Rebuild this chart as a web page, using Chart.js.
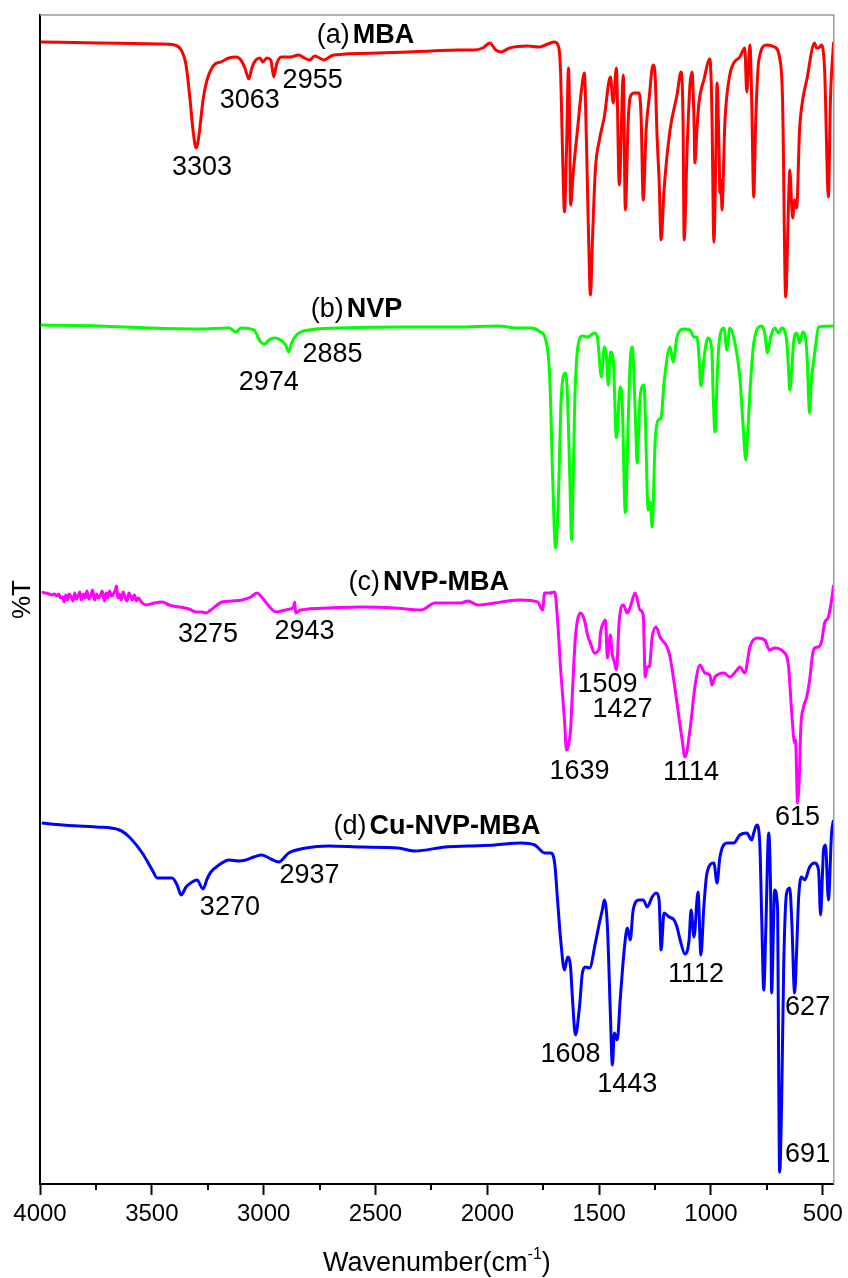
<!DOCTYPE html>
<html>
<head>
<meta charset="utf-8">
<script src="https://cdn.jsdelivr.net/npm/chart.js@4.4.0/dist/chart.umd.min.js"></script>
<style>
  html, body { margin: 0; padding: 0; background: #fff; }
  canvas { display: block; }
</style>
</head>
<body>
<canvas id="ftir" width="848" height="1278"></canvas>
<script>
// wavenumber (cm-1) and stacked %T (arbitrary offset units) for each spectrum
const mbaWn = [3997, 3734, 3467, 3399, 3369, 3347, 3329, 3316, 3302, 3289, 3271, 3253, 3222, 3191, 3155, 3124, 3102, 3084, 3066, 3053, 3035, 3017, 3004, 2986, 2968, 2955, 2942, 2920, 2879, 2844, 2817, 2794, 2772, 2750, 2732, 2688, 2488, 2252, 2131, 2064, 2020, 1989, 1962, 1940, 1900, 1819, 1770, 1730, 1699, 1681, 1672, 1664, 1655, 1646, 1637, 1632, 1628, 1615, 1597, 1579, 1566, 1557, 1548, 1539, 1530, 1517, 1499, 1477, 1450, 1437, 1423, 1410, 1392, 1383, 1370, 1361, 1343, 1321, 1312, 1303, 1290, 1276, 1259, 1250, 1241, 1232, 1223, 1210, 1183, 1152, 1134, 1125, 1120, 1107, 1094, 1085, 1076, 1072, 1063, 1054, 1032, 1005, 996, 987, 978, 973, 964, 960, 955, 951, 938, 916, 898, 871, 849, 840, 826, 818, 809, 800, 786, 751, 716, 693, 680, 666, 653, 648, 635, 626, 617, 604, 590, 572, 537, 528, 519, 506, 492, 475, 466, 452];
const mbaT = [1142, 1141, 1140, 1139, 1134, 1119, 1084, 1054, 1036, 1049, 1084, 1104, 1119, 1122, 1126, 1127, 1124, 1116, 1105, 1116, 1124, 1126, 1122, 1126, 1124, 1107, 1120, 1127, 1127, 1129, 1126, 1124, 1128, 1126, 1124, 1129, 1131, 1133, 1134, 1134, 1136, 1141, 1134, 1132, 1136, 1138, 1137, 1140, 1142, 1137, 1109, 1034, 972, 1034, 1116, 1064, 979, 1014, 1054, 1094, 1111, 1044, 954, 889, 944, 1014, 1044, 1067, 1107, 1081, 1116, 999, 1109, 974, 1064, 1087, 1091, 1091, 1064, 984, 1054, 1087, 1119, 1109, 1047, 1004, 944, 994, 1054, 1089, 1112, 1064, 944, 1034, 1099, 1112, 1064, 1021, 1054, 1081, 1104, 1125, 1074, 942, 1034, 1101, 1034, 991, 1004, 974, 1061, 1109, 1121, 1127, 1136, 1092, 1139, 1084, 987, 1064, 1124, 1139, 1137, 1126, 1084, 887, 984, 1014, 966, 984, 976, 1054, 1084, 1104, 1141, 1136, 1136, 1139, 1114, 987, 1084, 1142];

const nvpWn = [3997, 3734, 3511, 3289, 3155, 3124, 3102, 3044, 3013, 2995, 2977, 2951, 2924, 2902, 2888, 2875, 2853, 2799, 2666, 2399, 2131, 1953, 1864, 1806, 1762, 1739, 1721, 1708, 1695, 1681, 1672, 1659, 1650, 1641, 1632, 1623, 1615, 1610, 1597, 1575, 1552, 1521, 1508, 1490, 1477, 1468, 1459, 1450, 1437, 1423, 1410, 1406, 1397, 1383, 1370, 1361, 1352, 1339, 1330, 1317, 1299, 1294, 1281, 1272, 1263, 1250, 1236, 1223, 1210, 1183, 1169, 1152, 1120, 1094, 1076, 1063, 1054, 1045, 1032, 1023, 1014, 996, 991, 982, 973, 964, 942, 929, 916, 893, 871, 858, 844, 835, 826, 809, 773, 760, 747, 733, 716, 698, 684, 662, 653, 648, 639, 631, 617, 604, 590, 572, 559, 550, 546, 532, 519, 452];
const nvpT = [859, 858, 856, 855, 856, 852, 856, 854, 842, 840, 844, 846, 844, 839, 832, 841, 849, 854, 856, 857, 857, 858, 856, 856, 852, 844, 807, 707, 636, 694, 774, 809, 811, 784, 714, 644, 714, 774, 834, 848, 847, 851, 847, 807, 837, 829, 799, 832, 824, 746, 789, 797, 781, 671, 764, 824, 837, 774, 721, 787, 799, 771, 674, 682, 657, 741, 764, 766, 801, 837, 822, 847, 855, 854, 847, 847, 829, 798, 824, 839, 846, 834, 794, 752, 804, 841, 856, 834, 856, 841, 807, 764, 724, 754, 791, 841, 858, 851, 831, 847, 856, 851, 856, 844, 814, 794, 814, 841, 851, 841, 852, 834, 771, 809, 814, 839, 857, 858];

const nvpMbaWn = [3992, 3975, 3960, 3948, 3935, 3925, 3916, 3908, 3899, 3892, 3885, 3877, 3870, 3861, 3852, 3845, 3838, 3830, 3822, 3815, 3805, 3797, 3790, 3781, 3772, 3765, 3756, 3747, 3739, 3731, 3722, 3712, 3704, 3697, 3689, 3680, 3672, 3663, 3658, 3652, 3645, 3637, 3628, 3620, 3611, 3603, 3595, 3587, 3578, 3569, 3560, 3547, 3525, 3489, 3454, 3423, 3378, 3334, 3302, 3276, 3258, 3236, 3186, 3142, 3097, 3057, 3031, 3013, 2977, 2946, 2902, 2866, 2861, 2857, 2835, 2710, 2563, 2412, 2296, 2234, 2118, 2087, 2042, 1967, 1909, 1850, 1775, 1753, 1744, 1721, 1699, 1686, 1672, 1655, 1646, 1637, 1628, 1619, 1606, 1583, 1566, 1552, 1539, 1521, 1499, 1495, 1481, 1472, 1463, 1450, 1441, 1432, 1423, 1410, 1392, 1374, 1361, 1339, 1317, 1303, 1294, 1285, 1276, 1263, 1245, 1228, 1196, 1183, 1152, 1129, 1116, 1094, 1072, 1049, 1027, 1005, 996, 982, 942, 916, 884, 871, 849, 826, 795, 760, 738, 716, 675, 653, 639, 626, 622, 613, 604, 599, 586, 572, 559, 546, 537, 519, 506, 492, 475, 461, 452];
const nvpMbaT = [592, 591, 590, 589, 590, 588, 590, 586, 587, 582, 589, 584, 590, 587, 583, 591, 585, 588, 592, 584, 590, 586, 593, 585, 589, 594, 584, 590, 586, 588, 593, 583, 591, 586, 593, 588, 590, 594, 598, 586, 590, 584, 592, 587, 583, 591, 588, 584, 589, 583, 586, 582, 579, 581, 582, 579, 577, 575, 572, 572, 571, 574, 582, 583, 584, 587, 591, 588, 578, 572, 574, 577, 582, 571, 574, 576, 577, 576, 574, 581, 581, 583, 579, 581, 583, 584, 582, 574, 591, 591, 592, 564, 514, 464, 434, 439, 454, 494, 547, 571, 564, 549, 541, 531, 536, 549, 561, 564, 526, 549, 529, 522, 514, 564, 579, 571, 577, 591, 574, 569, 507, 517, 517, 547, 557, 547, 537, 527, 481, 444, 427, 454, 497, 519, 511, 509, 499, 507, 511, 507, 514, 517, 511, 537, 546, 544, 534, 536, 532, 517, 471, 441, 444, 381, 414, 454, 477, 487, 504, 529, 536, 537, 542, 561, 567, 584, 599];

const cuNvpMbaWn = [3992, 3899, 3748, 3645, 3601, 3543, 3498, 3476, 3409, 3387, 3369, 3347, 3320, 3298, 3271, 3253, 3236, 3200, 3155, 3111, 3080, 3044, 3008, 2968, 2933, 2888, 2812, 2710, 2563, 2399, 2323, 2189, 2087, 1967, 1850, 1788, 1744, 1717, 1699, 1686, 1672, 1655, 1641, 1628, 1619, 1606, 1588, 1575, 1561, 1543, 1517, 1499, 1486, 1477, 1463, 1450, 1441, 1432, 1419, 1406, 1388, 1374, 1361, 1348, 1321, 1303, 1285, 1263, 1245, 1232, 1223, 1210, 1187, 1165, 1152, 1138, 1116, 1098, 1089, 1076, 1058, 1045, 1032, 1018, 987, 973, 960, 929, 898, 871, 840, 818, 809, 795, 782, 773, 764, 755, 742, 733, 729, 720, 716, 702, 698, 693, 684, 675, 662, 648, 639, 626, 617, 608, 595, 581, 559, 537, 519, 510, 501, 497, 488, 475, 461, 452];
const cuNvpMbaT = [361, 359, 357, 354, 347, 331, 314, 306, 306, 299, 289, 297, 302, 304, 295, 305, 312, 319, 324, 323, 324, 327, 329, 325, 322, 331, 336, 338, 337, 336, 333, 337, 338, 339, 341, 339, 331, 331, 321, 284, 244, 214, 227, 217, 184, 149, 177, 211, 217, 216, 241, 261, 274, 284, 257, 171, 119, 151, 144, 184, 234, 256, 244, 274, 284, 284, 277, 287, 291, 284, 234, 271, 267, 264, 257, 244, 230, 244, 274, 247, 292, 229, 277, 311, 321, 301, 327, 341, 341, 349, 351, 344, 351, 359, 341, 264, 194, 254, 351, 284, 191, 264, 294, 274, 134, 12, 84, 217, 291, 296, 264, 191, 234, 287, 307, 304, 317, 321, 314, 269, 314, 334, 339, 284, 351, 364];

const xTickValues = [4000, 3500, 3000, 2500, 2000, 1500, 1000, 500];
const xMinorValues = [3750, 3250, 2750, 2250, 1750, 1250, 750];

// band assignments written next to the spectra
const peakLabels = ['3303', '3063', '2955', '2974', '2885', '3275', '2943', '1509', '1427', '1639', '1114', '615', '3270', '2937', '1112', '1608', '1443', '627', '691'];
const peakLabelWn = [3276, 3062, 2781, 2977, 2692, 3249, 2817, 1463, 1396, 1588, 1089, 613, 3151, 2795, 1067, 1628, 1374, 568, 568];
const peakLabelT = [1016, 1083, 1103, 801, 829, 549, 552, 499, 474, 412, 411, 366, 276, 308, 209, 129, 99, 176, 29];

const sampleTags = ['(a)', '(b)', '(c)', '(d)'];
const sampleNames = ['MBA', 'NVP', 'NVP-MBA', 'Cu-NVP-MBA'];
const sampleTagWn = [2763, 2790, 2621, 2688];
const sampleTagT = [1148, 874, 601, 357];

const FONT = '"Liberation Sans", Arial, sans-serif';

function pts(wn, t) {
    return wn.map((w, i) => ({ x: w, y: t[i] }));
}

const decorations = {
    id: 'decorations',
    afterDraw(chart) {
        const ctx = chart.ctx;
        const x = chart.scales.x;
        const y = chart.scales.y;
        const area = chart.chartArea;
        ctx.save();

        // grey top and right frame
        ctx.strokeStyle = '#999';
        ctx.lineWidth = 1.5;
        ctx.beginPath();
        ctx.moveTo(area.left, area.top);
        ctx.lineTo(area.right, area.top);
        ctx.lineTo(area.right, area.bottom);
        ctx.stroke();

        // minor ticks
        ctx.strokeStyle = '#000';
        ctx.lineWidth = 2;
        xMinorValues.forEach(v => {
            const px = Math.round(x.getPixelForValue(v));
            ctx.beginPath();
            ctx.moveTo(px, area.bottom);
            ctx.lineTo(px, area.bottom + 6);
            ctx.stroke();
        });

        // peak labels
        ctx.fillStyle = '#000';
        ctx.textAlign = 'center';
        ctx.textBaseline = 'middle';
        ctx.font = '27px ' + FONT;
        peakLabels.forEach((txt, i) => {
            ctx.fillText(txt, x.getPixelForValue(peakLabelWn[i]), y.getPixelForValue(peakLabelT[i]));
        });

        // sample titles: regular tag + bold name
        ctx.textAlign = 'left';
        sampleTags.forEach((tag, i) => {
            const px = x.getPixelForValue(sampleTagWn[i]);
            const py = y.getPixelForValue(sampleTagT[i]);
            ctx.font = '27px ' + FONT;
            ctx.fillText(tag, px, py);
            const w = ctx.measureText(tag).width;
            ctx.font = 'bold 27px ' + FONT;
            ctx.fillText(sampleNames[i], px + w + 3, py);
        });

        // x axis title with superscript
        const base = 1271;
        ctx.textBaseline = 'alphabetic';
        ctx.font = '27px ' + FONT;
        const p1 = 'Wavenumber(cm';
        const w1 = ctx.measureText(p1).width;
        const w3 = ctx.measureText(')').width;
        ctx.font = '16px ' + FONT;
        const w2 = ctx.measureText('-1').width;
        let sx = (area.left + area.right) / 2 - (w1 + w2 + w3) / 2;
        ctx.font = '27px ' + FONT;
        ctx.fillText(p1, sx, base);
        ctx.font = '16px ' + FONT;
        ctx.fillText('-1', sx + w1, base - 12);
        ctx.font = '27px ' + FONT;
        ctx.fillText(')', sx + w1 + w2, base);

        ctx.restore();
    }
};

const lineStyle = {
    pointRadius: 0,
    borderWidth: 3,
    fill: false,
    cubicInterpolationMode: 'monotone'
};

new Chart(document.getElementById('ftir'), {
    type: 'line',
    data: {
        datasets: [
            Object.assign({ label: 'MBA', data: pts(mbaWn, mbaT), borderColor: '#ff0000' }, lineStyle),
            Object.assign({ label: 'NVP', data: pts(nvpWn, nvpT), borderColor: '#00ff00' }, lineStyle),
            Object.assign({ label: 'NVP-MBA', data: pts(nvpMbaWn, nvpMbaT), borderColor: '#ff00ff' }, lineStyle),
            Object.assign({ label: 'Cu-NVP-MBA', data: pts(cuNvpMbaWn, cuNvpMbaT), borderColor: '#0000ff' }, lineStyle)
        ]
    },
    options: {
        responsive: false,
        animation: false,
        devicePixelRatio: 1,
        layout: { padding: { top: 15, right: 11, left: 0, bottom: 0 } },
        plugins: {
            legend: { display: false },
            tooltip: { enabled: false }
        },
        scales: {
            x: {
                type: 'linear',
                reverse: true,
                min: 451,
                max: 4000,
                afterFit: s => { s.height = 94; },
                afterBuildTicks: s => { s.ticks = xTickValues.map(v => ({ value: v })); },
                ticks: {
                    color: '#000',
                    font: { family: FONT, size: 24 },
                    padding: 5,
                    maxRotation: 0,
                    callback: v => String(v)
                },
                grid: {
                    drawOnChartArea: false,
                    tickLength: 11,
                    tickWidth: 2,
                    tickColor: '#000'
                },
                border: { display: true, color: '#000', width: 2 }
            },
            y: {
                type: 'linear',
                min: 0,
                max: 1169,
                afterFit: s => { s.width = 40; },
                ticks: { display: false },
                grid: { display: false, drawTicks: false },
                border: { display: true, color: '#000', width: 2 },
                title: {
                    display: true,
                    text: '%T',
                    color: '#000',
                    font: { family: FONT, size: 26 },
                    padding: { top: 7, bottom: 0 }
                }
            }
        }
    },
    plugins: [decorations]
});
</script>
</body>
</html>
